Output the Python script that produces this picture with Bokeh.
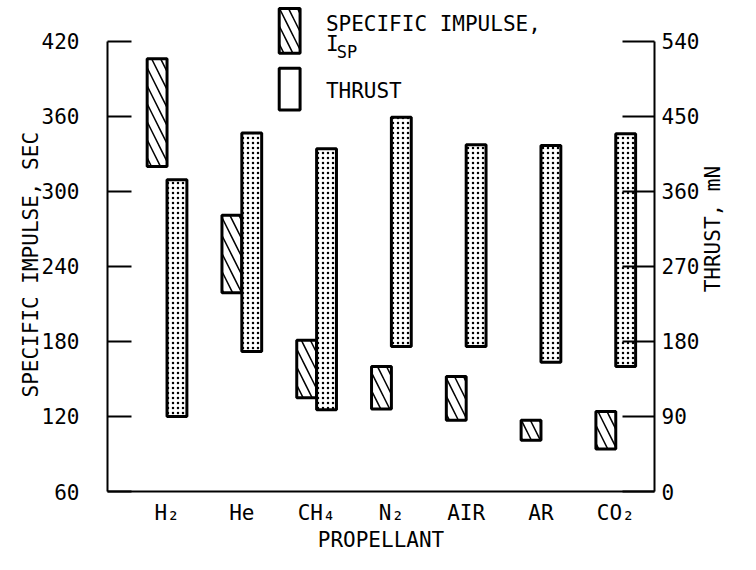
import math
from bokeh.plotting import figure
from bokeh.models import Range1d, LinearAxis, FixedTicker
from bokeh.embed import file_html
from bokeh.resources import INLINE
from bokeh.core.properties import value

# ---- data ----
PROPELLANTS = ["H2", "He", "CH4", "N2", "AIR", "AR", "CO2"]
TICK_LABELS = ["H₂", "He", "CH₄", "N₂", "AIR", "AR", "CO₂"]
ISP_LOW = [320, 219, 135, 126, 117, 101, 94]
ISP_HIGH = [406, 281, 181, 160, 152, 117, 124]
THRUST_LOW = [90, 168, 98, 174, 174, 155, 150]
THRUST_HIGH = [374, 430, 411, 449, 416, 415, 429]
ISP_TICKS = [60, 120, 180, 240, 300, 360, 420]
THRUST_TICKS = [0, 90, 180, 270, 360, 450, 540]

FONT_STR = "DejaVu Sans Mono"
FONT = value(FONT_STR)
FS = "21px"

pos = list(range(1, len(PROPELLANTS) + 1))
BW = 0.2655

# layout: reference pixel -> x data mapping (category k at 167 + (k-1)*75.33 px)
FRAME_L, FRAME_R = 107, 658
def px_x(px):
    return round(1 + (px - 167) / 75.33, 3)

def px_y(py):
    return round(60 + (493 - py) / 1.2556, 2)

X0, X1 = px_x(FRAME_L), px_x(FRAME_R)

p = figure(width=740, height=554, output_backend="svg", toolbar_location=None,
           x_range=Range1d(X0, X1), y_range=Range1d(60, 452.65),
           min_border_left=FRAME_L, min_border_right=740 - FRAME_R, min_border_top=0,
           min_border_bottom=61)
p.outline_line_color = None
p.xgrid.visible = False
p.ygrid.visible = False
p.background_fill_color = "white"

p.extra_y_ranges = {"thrust": Range1d(0, 588.98)}

def style_axis(ax):
    ax.major_label_text_font = FONT_STR
    ax.major_label_text_font_size = FS
    ax.axis_line_width = 2
    ax.minor_tick_line_color = None
    ax.major_label_text_color = "black"

def title_axis(pos_value, text, standoff):
    ax = LinearAxis(ticker=FixedTicker(ticks=[pos_value]))
    style_axis(ax)
    ax.axis_line_color = None
    ax.major_tick_line_color = None
    ax.major_label_overrides = {pos_value: text}
    ax.major_label_orientation = math.pi / 2
    ax.major_label_standoff = standoff
    return ax

# x axis
xa = p.xaxis[0]
style_axis(xa)
xa.ticker = FixedTicker(ticks=pos)
xa.major_label_overrides = {i: t for i, t in zip(pos, TICK_LABELS)}
xa.major_tick_line_color = None
xa.major_label_standoff = 3
xa.axis_label = "PROPELLANT"
xa.axis_label_text_font = FONT_STR
xa.axis_label_text_font_size = FS
xa.axis_label_text_font_style = "normal"
xa.axis_label_text_color = "black"
xa.axis_label_standoff = 0

# left axis
ya = p.yaxis[0]
style_axis(ya)
ya.ticker = FixedTicker(ticks=ISP_TICKS)
ya.bounds = (60, 420)
ya.major_tick_in = 24
ya.major_tick_out = 0
ya.major_tick_line_width = 2
ya.major_label_standoff = 28

# right axis
ra = LinearAxis(y_range_name="thrust", ticker=FixedTicker(ticks=THRUST_TICKS),
                bounds=(0, 540))
style_axis(ra)
ra.major_tick_in = 32
ra.major_tick_out = 0
ra.major_tick_line_width = 2
ra.major_label_standoff = 7
p.add_layout(ra, "right")

# rotated axis titles (tick-less axes; tick placed at the text's anchored end)
p.add_layout(title_axis(px_y(132), "SPECIFIC IMPULSE, SEC", 1), "left")
p.add_layout(title_axis(px_y(293), "THRUST, mN", 5), "right")

# bars
p.quad(left=[x - BW for x in pos], right=pos, bottom=ISP_LOW, top=ISP_HIGH,
       fill_color="white", line_color="black", line_width=3,
       hatch_pattern="\\", hatch_scale=18, hatch_weight=1.5, hatch_color="black")
p.quad(left=pos, right=[x + BW for x in pos], bottom=THRUST_LOW, top=THRUST_HIGH,
       y_range_name="thrust",
       fill_color="white", line_color="black", line_width=3,
       hatch_pattern="dot", hatch_scale=5, hatch_weight=1.2, hatch_color="black")

# legend
p.quad(left=[px_x(280)], right=[px_x(301)], bottom=[px_y(53)], top=[px_y(8)],
       fill_color="white", line_color="black", line_width=3,
       hatch_pattern="\\", hatch_scale=18, hatch_weight=1.5, hatch_color="black")
p.quad(left=[px_x(280)], right=[px_x(301)], bottom=[px_y(110)], top=[px_y(68)],
       fill_color="white", line_color="black", line_width=3)
p.text(x=[px_x(327)], y=[px_y(24)], text=["SPECIFIC IMPULSE,"],
       text_font=FONT, text_font_size=FS, text_baseline="middle", text_align="left")
p.text(x=[px_x(327)], y=[px_y(44)], text=["I"],
       text_font=FONT, text_font_size=FS, text_baseline="middle", text_align="left")
p.text(x=[px_x(338)], y=[px_y(52)], text=["SP"],
       text_font=FONT, text_font_size="17px", text_baseline="middle", text_align="left")
p.text(x=[px_x(327)], y=[px_y(91)], text=["THRUST"],
       text_font=FONT, text_font_size=FS, text_baseline="middle", text_align="left")

open("out.html", "w").write(file_html(p, INLINE))
